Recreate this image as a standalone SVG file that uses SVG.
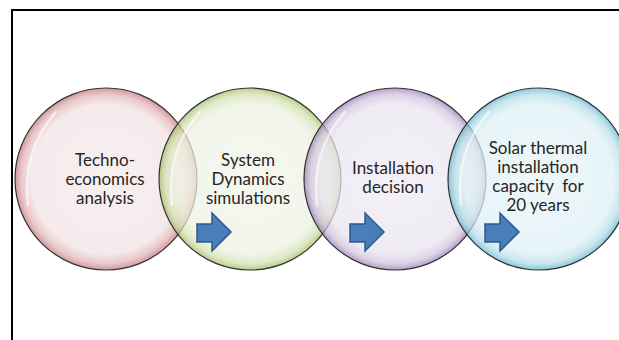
<svg xmlns="http://www.w3.org/2000/svg" width="619" height="340" viewBox="0 0 619 340">
<defs>
<radialGradient id="gRed" cx="0.5" cy="0.5" r="0.5">
<stop offset="0" stop-color="#f5eaec"/><stop offset="0.82" stop-color="#f2e2e4"/><stop offset="0.93" stop-color="#e2b3b6"/><stop offset="1" stop-color="#c07478"/>
</radialGradient>
<radialGradient id="gGreen" cx="0.5" cy="0.5" r="0.5">
<stop offset="0" stop-color="#f2f5ec"/><stop offset="0.82" stop-color="#ecf1e0"/><stop offset="0.93" stop-color="#d3e0b0"/><stop offset="1" stop-color="#9fba62"/>
</radialGradient>
<radialGradient id="gPurple" cx="0.5" cy="0.5" r="0.5">
<stop offset="0" stop-color="#f0ecf3"/><stop offset="0.82" stop-color="#e9e3ef"/><stop offset="0.93" stop-color="#cfc2dc"/><stop offset="1" stop-color="#937bb1"/>
</radialGradient>
<radialGradient id="gBlue" cx="0.5" cy="0.5" r="0.5">
<stop offset="0" stop-color="#e8f4f7"/><stop offset="0.82" stop-color="#ddf0f5"/><stop offset="0.93" stop-color="#b2dde8"/><stop offset="1" stop-color="#62b4cc"/>
</radialGradient>
<style>
.c{stroke:#333;stroke-width:1.2;fill-opacity:0.72}
.t{font-family:Lato,"Open Sans","Liberation Sans",sans-serif;font-size:17px;fill:#262626;text-anchor:middle;white-space:pre}
.a{fill:#4a7ebb;stroke:#2c5a8c;stroke-width:1.5}
.hl{fill:none;stroke:#ffffff;stroke-width:2.5;stroke-opacity:0.6;stroke-linecap:round}
</style>
</defs>
<rect x="12" y="10" width="620" height="340" fill="#ffffff" stroke="#000" stroke-width="2"/>
<g id="node1">
<circle class="c" cx="106" cy="179" r="91" fill="url(#gRed)"/>
<path class="hl" d="M28 205 Q22 150 56 112"/>
<text class="t" x="105" y="166">Techno-</text>
<text class="t" x="105" y="185">economics</text>
<text class="t" x="105" y="204">analysis</text>
</g>
<g id="node2">
<circle class="c" cx="250" cy="179" r="91" fill="url(#gGreen)"/>
<path class="hl" d="M172 205 Q166 150 200 112"/>
<text class="t" x="248" y="166">System</text>
<text class="t" x="248" y="185">Dynamics</text>
<text class="t" x="248" y="204">simulations</text>
</g>
<g id="node3">
<circle class="c" cx="395" cy="179" r="91" fill="url(#gPurple)"/>
<path class="hl" d="M317 205 Q311 150 345 112"/>
<text class="t" x="393" y="174">Installation</text>
<text class="t" x="393" y="193">decision</text>
</g>
<g id="node4">
<circle class="c" cx="539" cy="179" r="91" fill="url(#gBlue)"/>
<path class="hl" d="M461 205 Q455 150 489 112"/>
<text class="t" x="538" y="154">Solar thermal</text>
<text class="t" x="538" y="173">installation</text>
<text class="t" x="538" y="192" xml:space="preserve">capacity  for</text>
<text class="t" x="538" y="211">20 years</text>
</g>
<g id="connectors">
<path class="a" d="M197 224 H212 V213 L231 232 L212 251 V242 H197 Z"/>
<path class="a" d="M350 224 H365 V213 L384 232 L365 251 V242 H350 Z"/>
<path class="a" d="M485 224 H500 V213 L519 232 L500 251 V242 H485 Z"/>
</g>
</svg>
